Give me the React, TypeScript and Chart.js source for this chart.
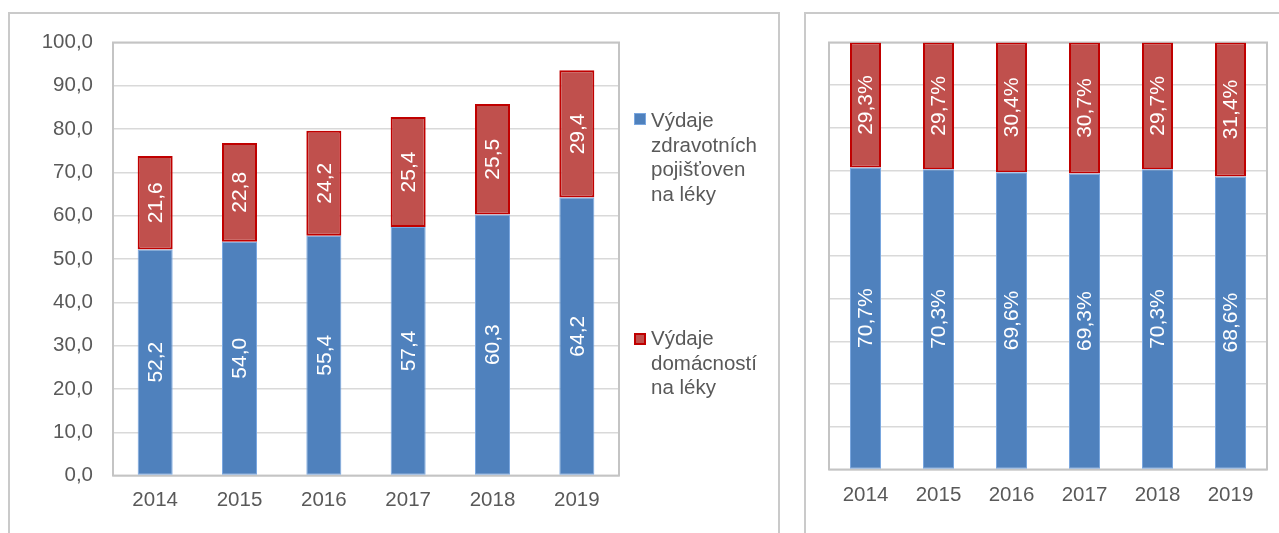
import React, { useEffect, useRef } from "react";
import { Chart, registerables } from "chart.js";

Chart.register(...registerables);

const years = ["2014", "2015", "2016", "2017", "2018", "2019"];
const insurers = [52.2, 54.0, 55.4, 57.4, 60.3, 64.2];
const households = [21.6, 22.8, 24.2, 25.4, 25.5, 29.4];
const insurersPct = [70.7, 70.3, 69.6, 69.3, 70.3, 68.6];
const householdsPct = [29.3, 29.7, 30.4, 30.7, 29.7, 31.4];
const legendInsurers = ["Výdaje", "zdravotních", "pojišťoven", "na léky"];
const legendHouseholds = ["Výdaje", "domácností", "na léky"];

const FONT = "'Liberation Sans', Arial, sans-serif";
const BLUE = "#4f81bd";
const BLUE_BORDER = "#7aa7e0";
const RED = "#c0504d";
const RED_BORDER = "#c00000";
const TEXT = "#595959";

const comma = (v: number) => v.toFixed(1).replace(".", ",");
const pct = (v: number) => comma(v) + "%";

const plotBorder = {
  id: "plotBorder",
  beforeDatasetsDraw(chart: any) {
    const { ctx, chartArea: a } = chart;
    ctx.save();
    ctx.strokeStyle = "#c4c4c4";
    ctx.lineWidth = 2;
    ctx.strokeRect(a.left, a.top, a.right - a.left, a.bottom - a.top);
    ctx.restore();
  },
};

function makeBarLabels(fmt: (v: number) => string) {
  return {
    id: "barLabels",
    afterDatasetsDraw(chart: any) {
      const { ctx } = chart;
      chart.data.datasets.forEach((ds: any, di: number) => {
        const meta = chart.getDatasetMeta(di);
        meta.data.forEach((el: any, i: number) => {
          const cy = (el.y + el.base) / 2;
          ctx.save();
          ctx.translate(el.x, cy);
          ctx.rotate(-Math.PI / 2);
          ctx.fillStyle = "#ffffff";
          ctx.font = `21px ${FONT}`;
          ctx.textAlign = "center";
          ctx.textBaseline = "middle";
          ctx.fillText(fmt(Number(ds.data[i])), 0, 1);
          ctx.restore();
        });
      });
    },
  };
}

function makeConfig(
  blue: number[],
  red: number[],
  fmt: (v: number) => string,
  showY: boolean,
  barPct: number,
  padding: any,
  yWidth: number,
  xHeight: number,
  xPad: number
): any {
  return {
    type: "bar",
    data: {
      labels: years,
      datasets: [
        {
          data: blue,
          backgroundColor: BLUE,
          borderColor: BLUE_BORDER,
          borderWidth: 1,
          borderSkipped: false,
          categoryPercentage: 1,
          barPercentage: barPct,
        },
        {
          data: red,
          backgroundColor: RED,
          borderColor: RED_BORDER,
          borderWidth: 2,
          borderSkipped: false,
          categoryPercentage: 1,
          barPercentage: barPct,
        },
      ],
    },
    options: {
      responsive: false,
      maintainAspectRatio: false,
      animation: false,
      layout: { padding },
      plugins: {
        legend: { display: false },
        tooltip: { enabled: false },
      },
      scales: {
        x: {
          stacked: true,
          grid: { display: false, drawTicks: false },
          border: { display: false },
          ticks: { color: TEXT, font: { family: FONT, size: 20.5 }, padding: xPad },
          afterFit: (s: any) => {
            s.height = xHeight;
          },
        },
        y: {
          stacked: true,
          min: 0,
          max: 100,
          grid: { color: "#d9d9d9", lineWidth: 1.5, drawTicks: false },
          border: { display: false },
          ticks: {
            display: showY,
            stepSize: 10,
            color: TEXT,
            font: { family: FONT, size: 20.5 },
            padding: 20,
            callback: (v: any) => comma(Number(v)),
          },
          afterFit: (s: any) => {
            s.width = yWidth;
          },
        },
      },
    },
    plugins: [plotBorder, makeBarLabels(fmt)],
  };
}

export default function App() {
  const leftRef = useRef<HTMLCanvasElement>(null);
  const rightRef = useRef<HTMLCanvasElement>(null);

  useEffect(() => {
    const c1 = new Chart(
      leftRef.current!,
      makeConfig(insurers, households, comma, true, 0.415, { top: 42.5, left: 0, right: 171, bottom: 0 }, 113, 57.4, 12.5)
    );
    const c2 = new Chart(
      rightRef.current!,
      makeConfig(insurersPct, householdsPct, pct, false, 0.425, { top: 42.5, left: 29, right: 12, bottom: 0 }, 0, 63.5, 13.5)
    );
    return () => {
      c1.destroy();
      c2.destroy();
    };
  }, []);

  const legendText: React.CSSProperties = {
    position: "absolute",
    left: 651,
    fontFamily: FONT,
    fontSize: 20.5,
    lineHeight: "24.6px",
    color: TEXT,
    whiteSpace: "nowrap",
  };

  return (
    <div
      style={{
        position: "fixed",
        left: 0,
        top: 0,
        width: 1279,
        height: 533,
        background: "#fff",
        overflow: "hidden",
      }}
    >
      <div
        style={{
          position: "absolute",
          left: 8,
          top: 12,
          width: 772,
          height: 600,
          border: "2px solid #cacaca",
          boxSizing: "border-box",
        }}
      />
      <div
        style={{
          position: "absolute",
          left: 804,
          top: 12,
          width: 600,
          height: 600,
          border: "2px solid #cacaca",
          boxSizing: "border-box",
        }}
      />
      <canvas
        ref={leftRef}
        width={790}
        height={533}
        style={{ position: "absolute", left: 0, top: 0, width: 790, height: 533 }}
      />
      <canvas
        ref={rightRef}
        width={479}
        height={533}
        style={{ position: "absolute", left: 800, top: 0, width: 479, height: 533 }}
      />
      <div
        style={{
          position: "absolute",
          left: 634,
          top: 113,
          width: 12,
          height: 12,
          background: BLUE,
          boxSizing: "border-box",
          border: "1px solid " + BLUE_BORDER,
        }}
      />
      <div style={{ ...legendText, top: 108 }}>
        {legendInsurers.map((t, i) => (
          <div key={i}>{t}</div>
        ))}
      </div>
      <div
        style={{
          position: "absolute",
          left: 634,
          top: 333,
          width: 12,
          height: 12,
          background: RED,
          boxSizing: "border-box",
          border: "2px solid " + RED_BORDER,
        }}
      />
      <div style={{ ...legendText, top: 326 }}>
        {legendHouseholds.map((t, i) => (
          <div key={i}>{t}</div>
        ))}
      </div>
    </div>
  );
}
